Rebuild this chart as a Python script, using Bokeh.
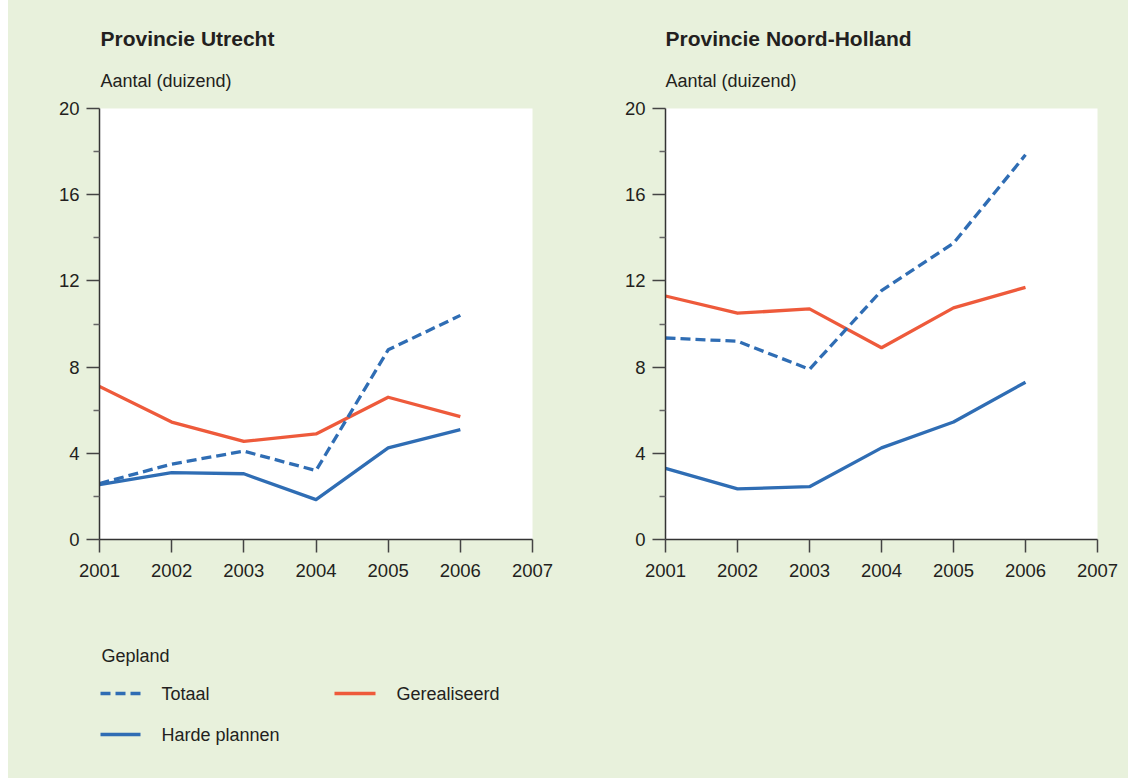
from bokeh.plotting import figure
from bokeh.models import FixedTicker, Label, Range1d, Spacer
from bokeh.layouts import column, row
from bokeh.embed import file_html
from bokeh.resources import INLINE

# ---- data ----
years = [2001, 2002, 2003, 2004, 2005, 2006]
x_ticks = [2001, 2002, 2003, 2004, 2005, 2006, 2007]
y_ticks = [0, 4, 8, 12, 16, 20]
y_minor = [2, 6, 10, 14, 18]

utrecht_totaal = [2.6, 3.5, 4.1, 3.2, 8.8, 10.4]
utrecht_harde = [2.55, 3.1, 3.05, 1.85, 4.25, 5.1]
utrecht_gereal = [7.1, 5.45, 4.55, 4.9, 6.6, 5.7]

nh_totaal = [9.35, 9.2, 7.9, 11.55, 13.75, 17.85]
nh_harde = [3.3, 2.35, 2.45, 4.25, 5.45, 7.3]
nh_gereal = [11.3, 10.5, 10.7, 8.9, 10.75, 11.7]

titles = ["Provincie Utrecht", "Provincie Noord-Holland"]
y_label = "Aantal (duizend)"
legend_title = "Gepland"
legend_labels = ["Totaal", "Gerealiseerd", "Harde plannen"]

# ---- styles ----
BG = "#e8f1dc"
BLUE = "#2f6db4"
RED = "#ee5a3b"
TXT = "#231f20"
FONT = "Liberation Sans"
LW = 3.3
OFF = 8          # white strip on the left
W = 1128 - OFF
HEAD_H = 95
LEG_H = 178


def blank(width, height):
    f = figure(output_backend="svg", toolbar_location=None,
               frame_width=width, frame_height=height, min_border=0,
               x_range=Range1d(0, width), y_range=Range1d(height, 0),
               x_axis_type=None, y_axis_type=None)
    f.background_fill_color = BG
    f.border_fill_color = BG
    f.outline_line_color = None
    f.grid.visible = False
    return f


def panel(totaal, harde, gereal, b_left, frame_w, b_right):
    p = figure(output_backend="svg", toolbar_location=None,
               frame_width=frame_w, frame_height=431,
               min_border_left=b_left, min_border_right=b_right,
               min_border_top=108 - HEAD_H, min_border_bottom=61,
               x_range=Range1d(2001, 2007), y_range=Range1d(0, 20))
    p.background_fill_color = "white"
    p.border_fill_color = BG
    p.outline_line_color = None
    p.grid.visible = False

    p.line(years, gereal, line_color=RED, line_width=LW, line_join="round")
    p.line(years, harde, line_color=BLUE, line_width=LW, line_join="round")
    p.line(years, totaal, line_color=BLUE, line_width=LW, line_dash="10 5")

    xa = p.xaxis[0]
    xa.ticker = FixedTicker(ticks=x_ticks)
    xa.axis_line_color = "#333333"
    xa.axis_line_width = 1.5
    xa.major_tick_line_color = "#444444"
    xa.major_tick_line_width = 1.5
    xa.major_tick_out = 13
    xa.major_tick_in = 0
    xa.minor_tick_line_color = None
    xa.major_label_standoff = 11
    xa.major_label_text_font = FONT
    xa.major_label_text_font_size = "18.5px"
    xa.major_label_text_color = TXT

    ya = p.yaxis[0]
    ya.ticker = FixedTicker(ticks=y_ticks, minor_ticks=y_minor)
    ya.axis_line_color = "#333333"
    ya.axis_line_width = 1.5
    ya.major_tick_line_color = "#444444"
    ya.major_tick_line_width = 1.5
    ya.major_tick_out = 13
    ya.major_tick_in = 0
    ya.minor_tick_line_color = "#666666"
    ya.minor_tick_line_width = 1.3
    ya.minor_tick_out = 6
    ya.minor_tick_in = 0
    ya.major_label_standoff = 7
    ya.major_label_text_font = FONT
    ya.major_label_text_font_size = "18.5px"
    ya.major_label_text_color = TXT
    return p


# header with panel titles
head = blank(W, HEAD_H)
for x, t in [(100 - OFF, titles[0]), (665 - OFF, titles[1])]:
    head.add_layout(Label(x=x, y=38, text=t, text_font=FONT,
                          text_font_style="bold", text_font_size="21px",
                          text_color=TXT, text_baseline="middle"))
    head.add_layout(Label(x=x, y=80, text=y_label, text_font=FONT,
                          text_font_size="18px", text_color=TXT,
                          text_baseline="middle"))

p1 = panel(utrecht_totaal, utrecht_harde, utrecht_gereal, 99 - OFF, 433, 36)
p2 = panel(nh_totaal, nh_harde, nh_gereal, 97, 432, 31)

# legend panel
lg = blank(W, LEG_H)
lg.line([100 - OFF, 140 - OFF], [93, 93], line_color=BLUE, line_width=LW,
        line_dash="10 5")
lg.line([334 - OFF, 375 - OFF], [93, 93], line_color=RED, line_width=LW)
lg.line([100 - OFF, 140 - OFF], [134, 134], line_color=BLUE, line_width=LW)
for x, y, t in [(101, 55, legend_title), (161, 93, legend_labels[0]),
                (396, 93, legend_labels[1]), (161, 134, legend_labels[2])]:
    lg.add_layout(Label(x=x - OFF, y=y, text=t, text_font=FONT,
                        text_font_size="18px", text_color=TXT,
                        text_baseline="middle"))

main = column(head, row(p1, p2, styles={"background-color": BG}), lg,
              styles={"background-color": BG})
layout = row(Spacer(width=OFF, height=778), main)
open("out.html", "w").write(file_html(layout, INLINE))
